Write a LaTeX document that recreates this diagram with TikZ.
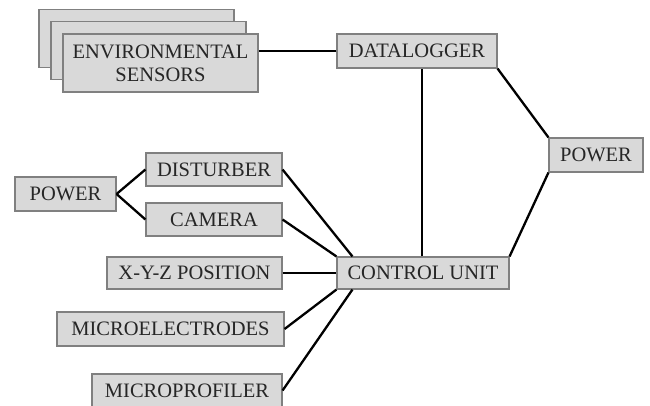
\documentclass[tikz,border=0pt]{standalone}
\usepackage{fontspec}
\setmainfont{Liberation Serif}
\usepackage{xcolor}

\begin{document}
\begin{tikzpicture}[x=1pt,y=-1pt,
  box/.style={draw=black!50, fill=gray!30, text=black!85, line width=1.1pt,
    inner sep=0pt, font=\fontsize{20.5}{23}\selectfont, align=center},
  wire/.style={line width=2.3pt, black}]
\useasboundingbox (0,0) rectangle (650,405);

% sensors stack
\node[box, minimum width=195pt, minimum height=58pt] (envA) at (136.5,38.5) {};
\node[box, minimum width=195pt, minimum height=58pt] (envB) at (148.5,50.5) {};
\node[box, minimum width=195pt, minimum height=58pt] (envC) at (160.5,63) {ENVIRONMENTAL\\SENSORS};

% right part
\node[box, minimum width=160pt, minimum height=34pt] (dlog) at (417,51) {DATALOGGER};
\node[box, minimum width=94pt, minimum height=34pt] (pwrR) at (596,155) {POWER};
\node[box, minimum width=172pt, minimum height=32pt] (ctrl) at (423,273) {CONTROL UNIT};

% left part
\node[box, minimum width=101pt, minimum height=34pt] (pwrL) at (65.5,194) {POWER};
\node[box, minimum width=136pt, minimum height=33pt] (dist) at (214,169.5) {DISTURBER};
\node[box, minimum width=136pt, minimum height=33pt] (cam) at (214,219.5) {CAMERA};
\node[box, minimum width=175pt, minimum height=32pt] (xyz) at (194.5,273) {X-Y-Z POSITION};
\node[box, minimum width=227pt, minimum height=34pt] (micro) at (170.5,329) {MICROELECTRODES};
\node[box, minimum width=190pt, minimum height=33pt] (prof) at (187,390.5) {MICROPROFILER};

% connections
\draw[wire] (dlog.west) -- (dlog.west -| envC.east);
\draw[wire] (ctrl.north -| 422,0) -- (dlog.south -| 422,0);
\draw[wire] (dlog.south east) -- (pwrR.north west);
\draw[wire] (pwrR.south west) -- (ctrl.north east);
\draw[wire] (pwrL.east) -- (dist.west);
\draw[wire] (pwrL.east) -- (cam.west);
\draw[wire] (dist.east) -- ([xshift=16pt]ctrl.north west);
\draw[wire] (cam.east) -- (ctrl.north west);
\draw[wire] (xyz.east) -- (ctrl.west);
\draw[wire] (micro.east) -- (ctrl.south west);
\draw[wire] (prof.east) -- ([xshift=16pt]ctrl.south west);

\end{tikzpicture}
\end{document}
